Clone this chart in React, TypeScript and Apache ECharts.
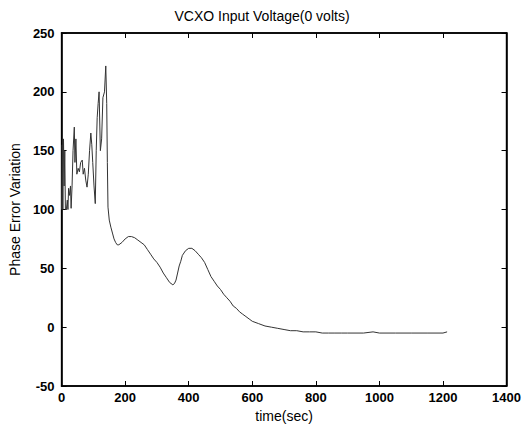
import React, { useEffect, useRef } from "react";
import * as echarts from "echarts";

const titleText = "VCXO Input Voltage(0 volts)";
const xName = "time(sec)";
const yName = "Phase Error Variation";

const times = [
  0, 2, 4, 6, 8, 10, 12, 15, 18, 20, 22, 25, 28, 30, 33, 36, 40, 42, 45, 48, 52, 56, 60, 65, 68, 72, 76, 80, 84, 88,
  92, 95, 98, 102, 106, 109, 112, 115, 118, 122, 126, 130, 135, 139, 142, 144, 146, 150, 155, 160, 165, 170, 175, 180,
  190, 200, 210, 220, 230, 240, 250, 260, 270, 280, 290, 300, 310, 320, 330, 340, 350, 355, 360, 365, 370, 375, 380,
  390, 400, 410, 420, 430, 440, 450, 460, 470, 480, 490, 500, 510, 520, 530, 540, 550, 560, 570, 580, 590, 600, 620,
  640, 660, 680, 700, 720, 740, 760, 780, 800, 820, 840, 860, 880, 900, 920, 950, 980, 1000, 1050, 1100, 1150, 1200,
  1213,
];
const values = [
  100, 155, 100, 160, 120, 150, 100, 100, 108, 100, 118, 112, 120, 101, 120, 150, 170, 140, 160, 130, 135, 132, 140,
  142, 130, 135, 125, 119, 130, 150, 165, 155, 140, 120, 105, 150, 178, 190, 200, 150, 160, 195, 200, 222, 190, 140,
  102, 91, 85, 80, 75, 72, 70, 70, 72, 75, 77, 77, 76, 74, 72, 70, 66, 62, 58, 55, 51, 46, 42, 38, 36, 37, 40, 46, 52,
  56, 61, 65, 67, 67, 65, 62, 59, 55, 49, 43, 39, 35, 32, 28, 25, 22, 18, 16, 13, 11, 9, 7, 5, 3, 1, 0, -1, -2, -3,
  -3, -4, -4, -4, -5, -5, -5, -5, -5, -5, -5, -4, -5, -5, -5, -5, -5, -4,
];

export default function App() {
  const ref = useRef<HTMLDivElement>(null);
  useEffect(() => {
    document.body.style.margin = "0";
    if (!ref.current) return;
    const chart = echarts.init(ref.current, null, { renderer: "svg" });
    const font = "Liberation Sans, Arial, sans-serif";
    const tickStyle = { inside: true, length: 5, lineStyle: { color: "#000", width: 1 } };
    const lineStyle = { color: "#000", width: 1.5 };
    chart.setOption({
      animation: false,
      backgroundColor: "#fff",
      title: {
        text: titleText,
        left: "center",
        top: 4,
        textStyle: { fontFamily: font, fontSize: 14, fontWeight: "normal", color: "#000" },
      },
      grid: { left: 57, right: 17, top: 33, bottom: 45, show: true, borderColor: "#000", borderWidth: 1.5 },
      xAxis: [
        {
          type: "value",
          min: 0,
          max: 1400,
          interval: 200,
          position: "bottom",
          name: xName,
          nameLocation: "middle",
          nameGap: 23,
          nameTextStyle: { fontFamily: font, fontSize: 14, color: "#000" },
          axisLine: { show: true, onZero: false, lineStyle },
          axisTick: tickStyle,
          axisLabel: {
            fontFamily: font,
            fontSize: 13,
            fontWeight: "bold",
            color: "#000",
            margin: 5,
            formatter: (v: number) => String(v),
          },
          splitLine: { show: false },
        },
        {
          type: "value",
          min: 0,
          max: 1400,
          interval: 200,
          position: "top",
          axisLine: { show: true, onZero: false, lineStyle },
          axisTick: tickStyle,
          axisLabel: { show: false },
          splitLine: { show: false },
        },
      ],
      yAxis: [
        {
          type: "value",
          min: -50,
          max: 250,
          interval: 50,
          position: "left",
          name: yName,
          nameLocation: "middle",
          nameGap: 34,
          nameTextStyle: { fontFamily: font, fontSize: 14, color: "#000" },
          axisLine: { show: true, onZero: false, lineStyle },
          axisTick: tickStyle,
          axisLabel: { fontFamily: font, fontSize: 13, fontWeight: "bold", color: "#000", margin: 7 },
          splitLine: { show: false },
        },
        {
          type: "value",
          min: -50,
          max: 250,
          interval: 50,
          position: "right",
          axisLine: { show: true, onZero: false, lineStyle },
          axisTick: tickStyle,
          axisLabel: { show: false },
          splitLine: { show: false },
        },
      ],
      series: [
        {
          type: "line",
          xAxisIndex: 0,
          yAxisIndex: 0,
          data: times.map((t, i) => [t, values[i]]),
          showSymbol: false,
          lineStyle: { color: "#333", width: 1 },
        },
      ],
    });
    return () => chart.dispose();
  }, []);
  return <div ref={ref} style={{ width: 524, height: 431 }} />;
}
